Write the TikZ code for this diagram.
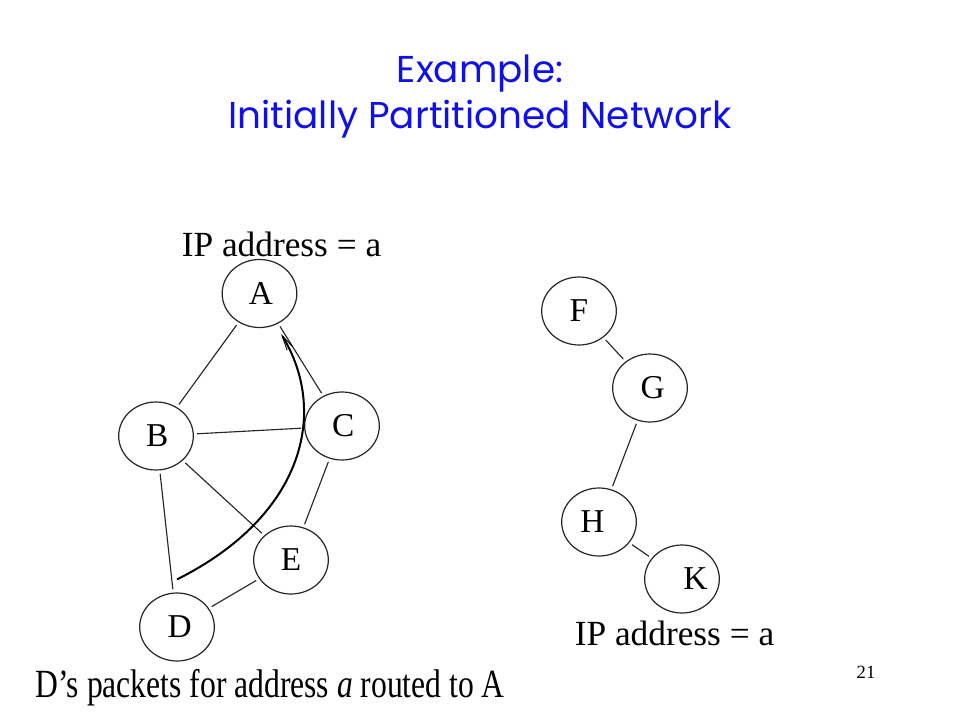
\documentclass[tikz,border=0pt]{standalone}
\usepackage{fontspec}
\setmainfont{Liberation Serif}
\newfontfamily\titlefont{Poppins}
\usetikzlibrary{arrows.meta, shapes.geometric, positioning}
\usepackage{xcolor}
\definecolor{slideblue}{HTML}{1010E8}
\definecolor{edgegray}{HTML}{262626}

\begin{document}
\begin{tikzpicture}[
    x=0.75pt, y=-0.75pt,
    host/.style={
        ellipse,
        draw=edgegray,
        line width=0.9pt,
        minimum width=56pt,
        minimum height=51pt,
        inner sep=0pt,
        font=\fontsize{25}{25}\selectfont
    },
    link/.style={
        draw=edgegray,
        line width=0.85pt,
        shorten <=2.5pt,
        shorten >=2.5pt
    },
    route/.style={
        -{Straight Barb[length=11pt,width=5pt,line width=0.7pt]},
        line width=1.5pt
    },
    addr/.style={
        anchor=base,
        font=\fontsize{26.5}{26.5}\selectfont
    },
    heading/.style={
        anchor=base,
        text=slideblue,
        font=\titlefont\fontsize{28}{28}\selectfont
    }
]

\useasboundingbox[fill=white] (0,0) rectangle (960,720);

% Title
\node[heading] (head1) at (480,83) {Example:};
\node[heading] (head2) at (480,129) {Initially Partitioned Network};

% Left partition
\node[host] (A) at (259.5,293.5) {\kern2pt A};
\node[host] (B) at (156,436) {\kern2pt B};
\node[host] (C) at (342,426) {\kern2pt C};
\node[host] (E) at (291,560) {E};
\node[host] (D) at (177,627) {\kern4pt D};

% Right partition
\node[host] (F) at (579,311) {F};
\node[host] (G) at (650,388) {\kern4pt G};
\node[host] (H) at (599,522) {H\kern10pt};
\node[host] (K) at (682,579) {\kern20pt K};

% Links
\draw[link] (A) -- (B);
\draw[link] (A) -- (C);
\draw[link] (B) -- (C);
\draw[link] (B) -- (E);
\draw[link] (B) -- (D);
\draw[link] (C) -- (E);
\draw[link] (D) -- (E);

\draw[link] (F) -- (G);
\draw[link] (G) -- (H);
\draw[link] (H) -- (K);

% Route of D's packets
\draw[route] ([shift={(0,-13)}]D.north) .. controls +(128,-64) and +(47,77) .. ([shift={(4,10)}]A.-60);

% Addresses
\node[addr] (ipA) at (281.5,257) {IP address = a};
\node[addr] (ipK) at (674.5,645) {IP address = a};

% Caption
\node[anchor=base, font=\fontsize{30}{30}\selectfont] (caption) at (270,697) {\scalebox{0.79}[1]{D’s packets for address \textit{a} routed to A}};
\node[anchor=base, font=\fontsize{14}{14}\selectfont] (pageno) at (866,678) {21};

\end{tikzpicture}
\end{document}
